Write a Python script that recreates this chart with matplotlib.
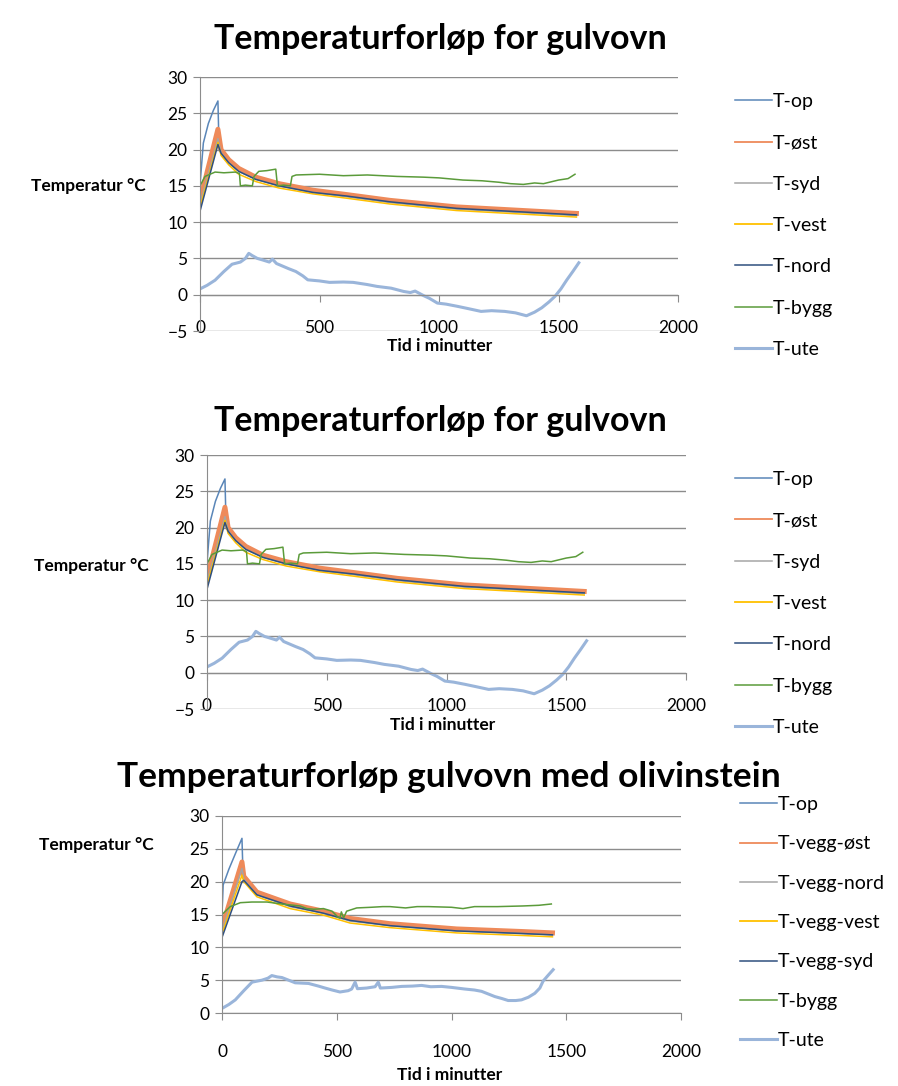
import matplotlib.pyplot as plt

plt.rcParams['font.family'] = ['Lato', 'DejaVu Sans']

# ---- panel 1 and 2 (same measurement) ----
titles = ['Temperaturforløp for gulvovn', 'Temperaturforløp for gulvovn',
          'Temperaturforløp gulvovn med olivinstein']
labels_a = ['T-op', 'T-øst', 'T-syd', 'T-vest', 'T-nord', 'T-bygg', 'T-ute']
labels_b = ['T-op', 'T-vegg-øst', 'T-vegg-nord', 'T-vegg-vest', 'T-vegg-syd', 'T-bygg', 'T-ute']

op_x = [0, 4, 14, 35, 56, 75, 80, 120, 162, 233, 331, 472, 613, 795, 1073, 1352, 1575]
op_y = [15.0, 16.8, 20.9, 23.6, 25.4, 26.7, 19.9, 18.4, 17.2, 16.0, 15.1, 14.2, 13.7, 12.9, 12.0, 11.5, 11.1]

wall_x = [0, 75, 88, 120, 162, 233, 331, 472, 613, 795, 1073, 1352, 1575]
ost_y = [13.0, 22.8, 20.0, 18.6, 17.4, 16.2, 15.3, 14.4, 13.8, 13.0, 12.1, 11.6, 11.2]
syd_y = [12.5, 21.5, 19.6, 18.2, 17.0, 15.9, 15.0, 14.1, 13.5, 12.7, 11.8, 11.3, 10.9]
vest_y = [12.0, 21.0, 19.2, 17.9, 16.6, 15.6, 14.7, 13.9, 13.3, 12.5, 11.6, 11.1, 10.7]
nord_y = [11.5, 20.7, 19.5, 18.2, 17.0, 15.9, 15.0, 14.1, 13.6, 12.8, 11.9, 11.4, 11.0]

bygg_x = [0, 21, 63, 100, 148, 165, 169, 190, 219, 226, 246, 280, 317, 324, 350, 378, 385,
          402, 500, 600, 700, 824, 934, 1000, 1100, 1180, 1250, 1300, 1353, 1400, 1437, 1500, 1540, 1569]
bygg_y = [15.0, 16.3, 16.9, 16.8, 16.9, 16.7, 15.0, 15.1, 15.0, 16.3, 17.0, 17.1, 17.3, 15.0, 15.1, 15.0, 16.3,
          16.5, 16.6, 16.4, 16.5, 16.3, 16.2, 16.1, 15.8, 15.7, 15.5, 15.3, 15.2, 15.4, 15.3, 15.8, 16.0, 16.6]

ute_x = [0, 30, 63, 100, 134, 169, 190, 204, 218, 240, 261, 290, 303, 320, 345, 370, 401, 430, 451,
         500, 542, 600, 641, 700, 740, 800, 852, 880, 900, 937, 960, 993, 1030, 1077, 1120, 1176, 1220,
         1275, 1320, 1366, 1400, 1430, 1460, 1486, 1510, 1535, 1560, 1585]
ute_y = [0.8, 1.3, 2.0, 3.2, 4.2, 4.5, 5.0, 5.7, 5.4, 5.0, 4.8, 4.5, 4.9, 4.3, 3.95, 3.6, 3.2, 2.6, 2.05,
         1.9, 1.7, 1.75, 1.7, 1.4, 1.15, 0.9, 0.45, 0.3, 0.5, -0.15, -0.5, -1.15, -1.3, -1.6, -1.9, -2.3, -2.2,
         -2.3, -2.5, -2.9, -2.4, -1.8, -1.0, -0.2, 0.8, 2.05, 3.2, 4.4]

# ---- panel 3 (olivinstein) ----
op3_x = [0, 5, 30, 60, 87, 92, 152, 297, 442, 558, 732, 1022, 1311, 1440]
op3_y = [15.0, 19.5, 21.9, 24.4, 26.6, 20.6, 18.2, 16.4, 15.3, 14.2, 13.4, 12.6, 12.2, 12.0]

wall3_x = [0, 87, 95, 152, 297, 442, 558, 732, 1022, 1311, 1440]
ost3_y = [13.0, 23.0, 20.8, 18.4, 16.6, 15.5, 14.4, 13.6, 12.8, 12.4, 12.2]
nord3_y = [12.5, 22.0, 20.4, 18.0, 16.2, 15.2, 14.0, 13.3, 12.5, 12.1, 11.9]
vest3_y = [12.0, 21.0, 20.0, 17.7, 15.9, 14.9, 13.7, 13.0, 12.2, 11.8, 11.6]
syd3_y = [11.5, 20.0, 20.2, 18.0, 16.3, 15.2, 14.1, 13.3, 12.5, 12.1, 11.9]

bygg3_x = [0, 36, 80, 130, 196, 260, 340, 370, 400, 442, 480, 505, 514, 520, 530, 543, 587, 650,
           700, 732, 800, 850, 900, 1000, 1050, 1100, 1200, 1311, 1380, 1435]
bygg3_y = [15.0, 16.2, 16.8, 16.9, 16.9, 16.6, 16.3, 15.9, 15.8, 15.9, 15.5, 14.6, 14.45, 15.4, 14.5, 15.5,
           16.0, 16.1, 16.2, 16.2, 16.0, 16.2, 16.2, 16.1, 15.9, 16.2, 16.2, 16.3, 16.4, 16.6]

ute3_x = [0, 30, 58, 95, 131, 174, 200, 217, 240, 261, 290, 319, 377, 420, 449, 480, 514, 550, 565,
          580, 590, 630, 667, 681, 690, 740, 783, 830, 870, 910, 957, 1000, 1058, 1100, 1131, 1160, 1189,
          1220, 1247, 1280, 1305, 1335, 1363, 1385, 1399, 1420, 1443]
ute3_y = [0.7, 1.3, 2.0, 3.4, 4.7, 5.0, 5.3, 5.7, 5.5, 5.4, 5.0, 4.6, 4.5, 4.1, 3.8, 3.5, 3.2, 3.4, 3.65,
          4.7, 3.7, 3.8, 4.0, 4.7, 3.8, 3.9, 4.05, 4.1, 4.2, 4.0, 4.05, 3.9, 3.65, 3.5, 3.3, 2.9, 2.5,
          2.2, 1.9, 1.9, 2.0, 2.4, 3.0, 3.8, 4.85, 5.7, 6.6]

colors = ['#5A86B8', '#EE8A5A', '#A5A5A5', '#FFC000', '#2F4F7F', '#5B9B3A', '#9AB5DA']
widths = [1.1, 3.6, 1.1, 1.1, 1.1, 1.1, 2.2]
leg_widths = [1.1, 1.3, 1.1, 1.3, 1.1, 1.1, 2.2]

W, H = 898, 1086
fig = plt.figure(figsize=(W / 100, H / 100), dpi=100)


def rect(l, r, t, b):
    return [l / W, 1 - b / H, (r - l) / W, (b - t) / H]


panels = [
    dict(rect=rect(200, 678, 77, 331), ylim=(-5, 30), labels=labels_a,
         series=[(op_x, op_y), (wall_x, ost_y), (wall_x, syd_y), (wall_x, vest_y),
                 (wall_x, nord_y), (bygg_x, bygg_y), (ute_x, ute_y)],
         title_xy=(440, 39), tsize=24.5, xlab_xy=(440, 346), ylab_xy=(88, 186),
         leg_xy=(735, 93), ls=1.25, pad=13),
    dict(rect=rect(207, 686, 455, 709), ylim=(-5, 30), labels=labels_a,
         series=[(op_x, op_y), (wall_x, ost_y), (wall_x, syd_y), (wall_x, vest_y),
                 (wall_x, nord_y), (bygg_x, bygg_y), (ute_x, ute_y)],
         title_xy=(440, 421), tsize=24.5, xlab_xy=(443, 725), ylab_xy=(91, 566),
         leg_xy=(735, 471), ls=1.25, pad=13),
    dict(rect=rect(222, 681, 816, 1013), ylim=(0, 30), labels=labels_b,
         series=[(op3_x, op3_y), (wall3_x, ost3_y), (wall3_x, nord3_y), (wall3_x, vest3_y),
                 (wall3_x, syd3_y), (bygg3_x, bygg3_y), (ute3_x, ute3_y)],
         title_xy=(449, 777), tsize=25.5, xlab_xy=(450, 1075), ylab_xy=(96, 845),
         leg_xy=(740, 796), ls=1.15, pad=17),
]

for i, p in enumerate(panels):
    ax = fig.add_axes(p['rect'])
    for (x, y), c, lw in zip(p['series'], colors, widths):
        ax.plot(x, y, color=c, lw=lw)
    ax.set_xlim(0, 2000)
    ax.set_ylim(*p['ylim'])
    ax.set_yticks(range(int(p['ylim'][0]), 31, 5))
    ax.set_xticks(range(0, 2001, 500))
    ax.grid(axis='y', color='#8C8C8C', lw=1)
    ax.set_axisbelow(True)
    for s in ['top', 'right']:
        ax.spines[s].set_visible(False)
    ax.spines['bottom'].set_position(('data', 0))
    ax.spines['left'].set_color('#8C8C8C')
    ax.spines['bottom'].set_color('#8C8C8C')
    ax.tick_params(axis='y', length=5, color='#8C8C8C', pad=4, labelsize=12.5)
    ax.tick_params(axis='x', length=5, color='#8C8C8C', pad=p['pad'], labelsize=12.5)

    fig.text(p['title_xy'][0] / W, 1 - p['title_xy'][1] / H, titles[i],
             ha='center', va='center', fontsize=p['tsize'], fontweight='bold')
    fig.text(p['xlab_xy'][0] / W, 1 - p['xlab_xy'][1] / H, 'Tid i minutter',
             ha='center', va='center', fontsize=12.5, fontweight='bold')
    fig.text(p['ylab_xy'][0] / W, 1 - p['ylab_xy'][1] / H, 'Temperatur °C',
             ha='center', va='center', fontsize=12.5, fontweight='bold')

    fig.legend([plt.Line2D([], [], color=c, lw=lw) for c, lw in zip(colors, leg_widths)], p['labels'],
               loc='upper left', bbox_to_anchor=(p['leg_xy'][0] / W, 1 - p['leg_xy'][1] / H),
               frameon=False, fontsize=14, handlelength=1.9, handletextpad=0.05,
               labelspacing=p['ls'], borderpad=0, borderaxespad=0)

fig.savefig('out.png', dpi=100, facecolor='white')
